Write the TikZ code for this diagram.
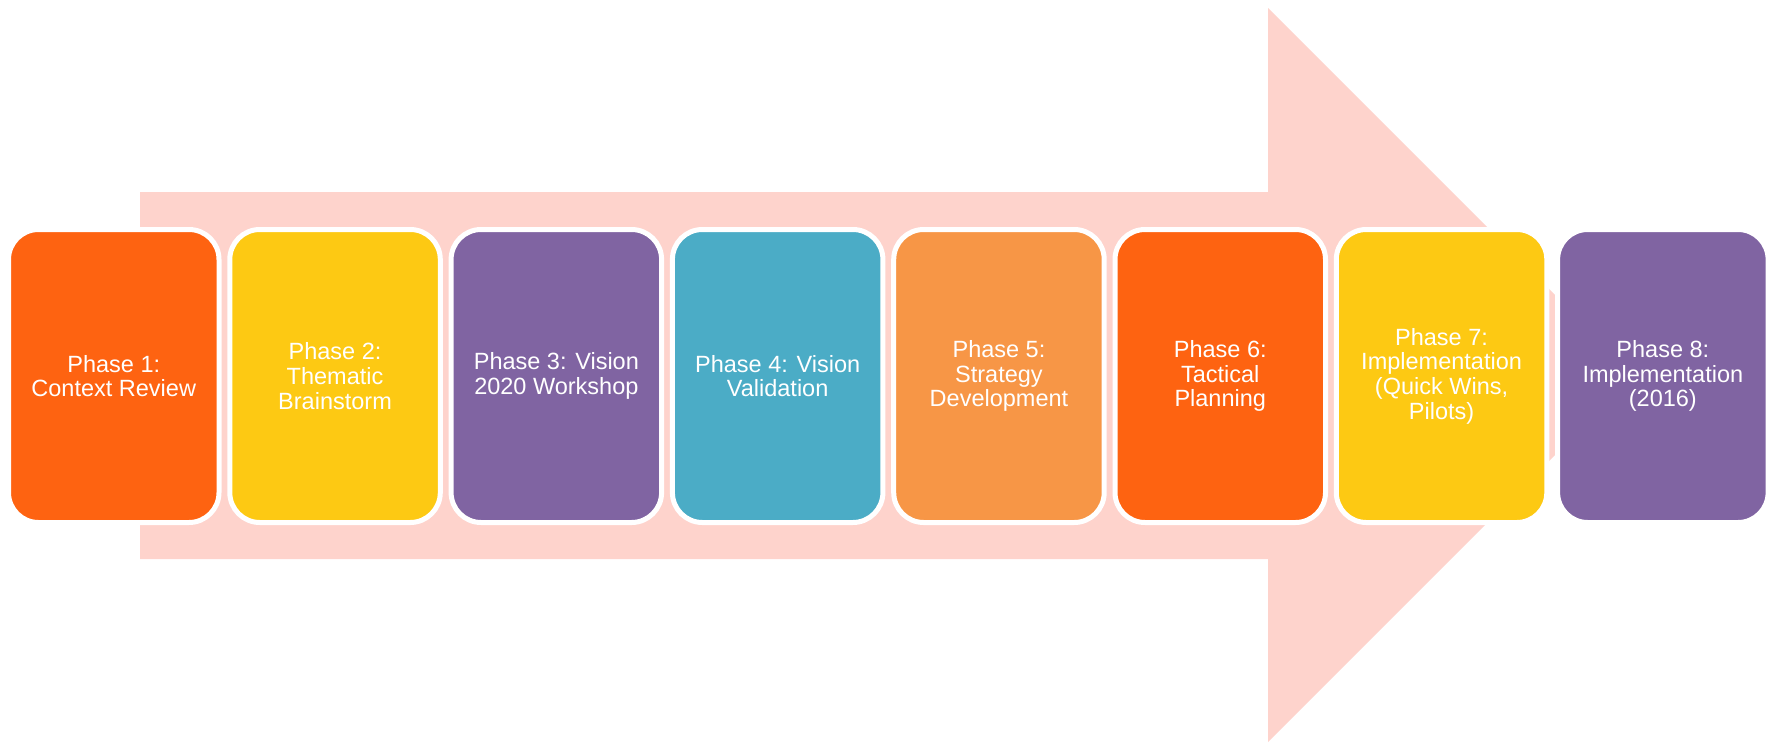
\documentclass[tikz,border=0pt]{standalone}
\usepackage{fontspec}
\setmainfont{Liberation Sans}
\definecolor{flame}{HTML}{FE6311}
\definecolor{sun}{HTML}{FDC913}
\definecolor{plum}{HTML}{8064A2}
\definecolor{aqua}{HTML}{4BACC6}
\definecolor{apricot}{HTML}{F79646}
\definecolor{blush}{HTML}{FED3CC}

\begin{document}
\begin{tikzpicture}[x=1pt,y=-1pt,
  phase/.style={draw=white,line width=5pt,rounded corners=30pt,inner sep=0pt,
    minimum width=210.5pt,minimum height=293pt,text=white,align=center,
    font=\fontsize{23.5}{24.7}\selectfont}]
  \def\gap{221.3}\def\xzero{113.75}\def\ymid{376}
  \useasboundingbox (0,0) rectangle (1771,744);
  % big arrow behind the phases
  \fill[blush] (140,192) -- (1268,192) -- (1268,8) -- (1635,375)
    -- (1268,742) -- (1268,559) -- (140,559) -- cycle;
  \foreach \i/\col/\txt in {1/flame/{Phase 1:\\Context Review},
      2/sun/{Phase 2:\\Thematic\\Brainstorm},
      3/plum/{Phase 3: Vision\\2020 Workshop},
      4/aqua/{Phase 4: Vision\\Validation},
      5/apricot/{Phase 5:\\Strategy\\Development},
      6/flame/{Phase 6:\\Tactical\\Planning},
      7/sun/{Phase 7:\\Implementation\\(Quick Wins,\\Pilots)},
      8/plum/{Phase 8:\\Implementation\\(2016)}}
    \node[phase,fill=\col] (p\i) at ({\xzero+(\i-1)*\gap},\ymid) {\txt};
\end{tikzpicture}
\end{document}
